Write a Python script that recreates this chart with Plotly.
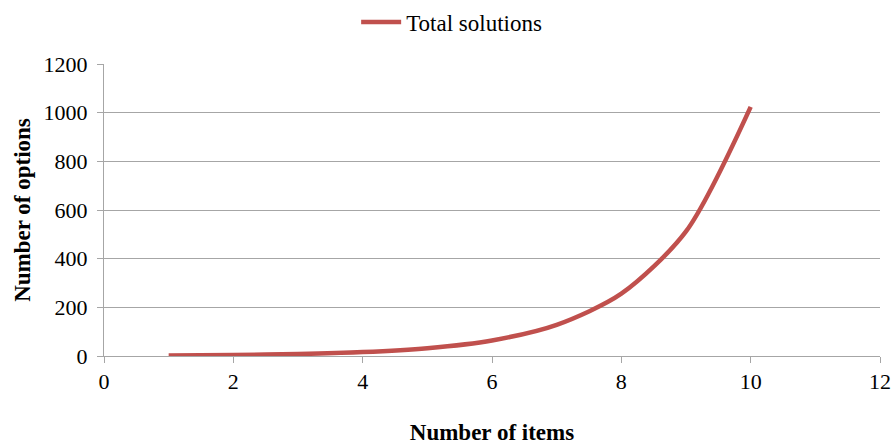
import plotly.graph_objects as go

items = [1, 2, 3, 4, 5, 6, 7, 8, 9, 10]
total_solutions = [2, 4, 8, 16, 32, 64, 128, 256, 512, 1024]

font_family = "Liberation Serif"

fig = go.Figure()
fig.add_trace(go.Scatter(
    x=items, y=total_solutions, mode="lines", name="Total solutions",
    line=dict(color="#C0504D", width=4.5, shape="spline", smoothing=0.8),
))

fig.update_layout(
    width=892, height=445,
    margin=dict(l=104, r=12, t=64, b=89, autoexpand=False),
    paper_bgcolor="white", plot_bgcolor="white",
    font=dict(family=font_family, size=22, color="#000000"),
    showlegend=True,
    legend=dict(orientation="h", x=0.448, xanchor="center", y=1.144, yanchor="middle",
                font=dict(size=23), itemwidth=40, bgcolor="rgba(0,0,0,0)"),
    xaxis=dict(
        range=[0, 12], tickvals=[0, 2, 4, 6, 8, 10, 12], showgrid=False,
        showline=True, linecolor="#A6A6A6", linewidth=1,
        ticks="outside", tickcolor="#A6A6A6", ticklen=6,
        zeroline=False, automargin=False,
        title=dict(text="<b>Number of items</b>", standoff=30, font=dict(size=23)),
    ),
    yaxis=dict(
        range=[0, 1200], tickvals=[0, 200, 400, 600, 800, 1000, 1200],
        showgrid=True, gridcolor="#A6A6A6", gridwidth=1,
        showline=True, linecolor="#A6A6A6", linewidth=1,
        ticks="outside", tickcolor="#A6A6A6", ticklen=6, ticklabelstandoff=5,
        zeroline=False, automargin=False,
        title=dict(text="<b>Number of options</b>", standoff=6, font=dict(size=23)),
    ),
)

fig.write_html(
    "out.html",
    config={"displayModeBar": False},
    post_script="document.body.style.margin='0';document.body.style.overflow='hidden';",
)
